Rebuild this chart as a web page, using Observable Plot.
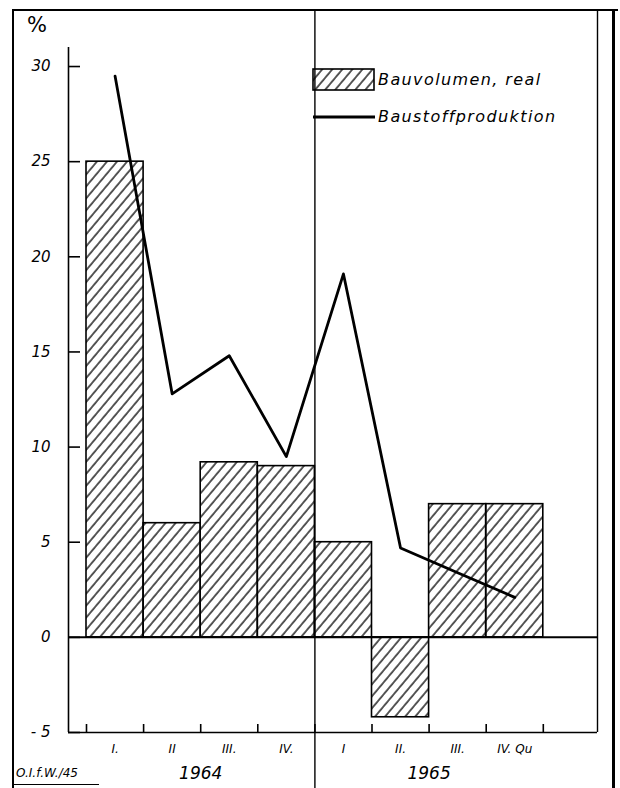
<!DOCTYPE html>
<html>
<head>
<meta charset="utf-8">
<script src="https://cdn.jsdelivr.net/npm/d3@7"></script>
<script src="https://cdn.jsdelivr.net/npm/@observablehq/plot@0.6"></script>
<style>
  html, body { margin: 0; padding: 0; background: #fff; }
  #wrap { position: relative; width: 620px; height: 788px; overflow: hidden; background: #fff;
          font-family: "DejaVu Sans", sans-serif; font-style: italic; color: #000; }
  .ln { position: absolute; background: #000; }
  .txt { position: absolute; white-space: nowrap; font-style: italic; }
</style>
</head>
<body>
<div id="wrap">
  <svg width="0" height="0" style="position:absolute">
    <defs>
      <pattern id="hatch" patternUnits="userSpaceOnUse" width="7.7" height="7.7" patternTransform="rotate(40)">
        <line x1="1" y1="0" x2="1" y2="7.7" stroke="#000" stroke-width="1.3"/>
      </pattern>
    </defs>
  </svg>
  <div id="chart"></div>
  <!-- frame -->
  <div class="ln" style="left:12px;top:9px;width:606px;height:2px"></div>
  <div class="ln" style="left:12px;top:9px;width:2px;height:779px"></div>
  <div class="ln" style="left:612px;top:9px;width:3px;height:779px"></div>
  <!-- % label -->
  <div class="txt" style="left:27px;top:13px;font-size:21px;font-style:normal">%</div>
  <!-- legend -->
  <svg style="position:absolute;left:312px;top:68px" width="64" height="24">
    <rect x="1" y="1" width="61" height="21" fill="url(#hatch)" stroke="#000" stroke-width="1.6"/>
  </svg>
  <div class="txt" id="leg1" style="left:378px;top:70px;font-size:16px;letter-spacing:1.4px">Bauvolumen, real</div>
  <svg style="position:absolute;left:313px;top:114px" width="64" height="6">
    <line x1="0" y1="3" x2="62" y2="3" stroke="#000" stroke-width="2.8"/>
  </svg>
  <div class="txt" id="leg2" style="left:378px;top:107px;font-size:16px;letter-spacing:1.4px">Baustoffproduktion</div>
  <!-- caption -->
  <div class="txt" style="left:16px;top:766px;font-size:12px">O.I.f.W./45</div>
  <div class="ln" style="left:13px;top:784px;width:86px;height:1px"></div>
</div>
<script>
// ---- data ----
const quarters = ["I.", "II", "III.", "IV.", "I", "II.", "III.", "IV. Qu"];
const quarterYear = ["1964", "1964", "1964", "1964", "1965", "1965", "1965", "1965"];
const bauvolumen = [25.0, 6.0, 9.2, 9.0, 5.0, -4.2, 7.0, 7.0];
const baustoffproduktion = [29.5, 12.8, 14.8, 9.5, 19.1, 4.7, 3.4, 2.1];
const yTicks = [-5, 0, 5, 10, 15, 20, 25, 30];
const yTickLabels = ["- 5", "0", "5", "10", "15", "20", "25", "30"];
const years = ["1964", "1965"];

// ---- table built from arrays ----
const rows = quarters.map((q, i) => ({i, q, year: quarterYear[i], bau: bauvolumen[i], prod: baustoffproduktion[i]}));
const edges = d3.range(quarters.length + 1);
const yearRows = years.map(y => {
  const idx = rows.filter(r => r.year === y).map(r => r.i);
  return {year: y, mid: (d3.min(idx) + d3.max(idx) + 1) / 2};
});
const yearBoundary = [rows.findIndex(r => r.year === years[1])];
const yTickRows = yTicks.map((v, k) => ({v, label: yTickLabels[k]}));

const W = 620, H = 788, mL = 68, mR = 23, mT = 47, mB = 56;
const unit = 57.1; // px per quarter
const xlo = -(86 - mL) / unit;
const xhi = xlo + (W - mL - mR) / unit;
const yDom = [-5, 31];
const pxPerY = (H - mT - mB) / (yDom[1] - yDom[0]);

const font = "DejaVu Sans, sans-serif";

const chart = Plot.plot({
  width: W, height: H,
  marginLeft: mL, marginRight: mR, marginTop: mT, marginBottom: mB,
  style: {fontFamily: font, fontStyle: "italic", background: "transparent", overflow: "visible"},
  x: {type: "linear", domain: [xlo, xhi], axis: null},
  y: {type: "linear", domain: yDom, axis: null},
  marks: [
    Plot.rectY(rows, {x1: d => d.i, x2: d => d.i + 1, y1: 0, y2: d => d.bau,
      fill: "url(#hatch)", stroke: "#000", strokeWidth: 1.6}),
    Plot.ruleY([0], {stroke: "#000", strokeWidth: 2}),
    Plot.ruleY([yDom[0]], {stroke: "#000", strokeWidth: 1.6}),
    Plot.ruleX([xlo], {y1: yDom[0], y2: yDom[1], stroke: "#000", strokeWidth: 1.6}),
    Plot.ruleX([xhi], {stroke: "#000", strokeWidth: 1.4, insetTop: -(mT - 10)}),
    Plot.ruleX(yearBoundary, {stroke: "#000", strokeWidth: 1.4, insetTop: -(mT - 10), insetBottom: -mB}),
    Plot.ruleY(yTicks, {x1: xlo, x2: xlo + 12 / unit, stroke: "#000", strokeWidth: 1.6}),
    Plot.ruleX(edges, {y1: yDom[0], y2: yDom[0] + 8 / pxPerY, stroke: "#000", strokeWidth: 1.6}),
    Plot.text(yTickRows, {x: xlo, y: "v", text: "label", dx: -18, textAnchor: "end",
      fontSize: 15, fill: "#000"}),
    Plot.text(rows, {x: d => d.i + 0.5, y: yDom[0], dy: 17, text: "q", fontSize: 12, fill: "#000"}),
    Plot.text(yearRows, {x: "mid", y: yDom[0], dy: 41, text: "year", fontSize: 17, fill: "#000"}),
    Plot.line(rows, {x: d => d.i + 0.5, y: "prod", stroke: "#000", strokeWidth: 2.8})
  ]
});
document.getElementById("chart").appendChild(chart);
</script>
</body>
</html>
